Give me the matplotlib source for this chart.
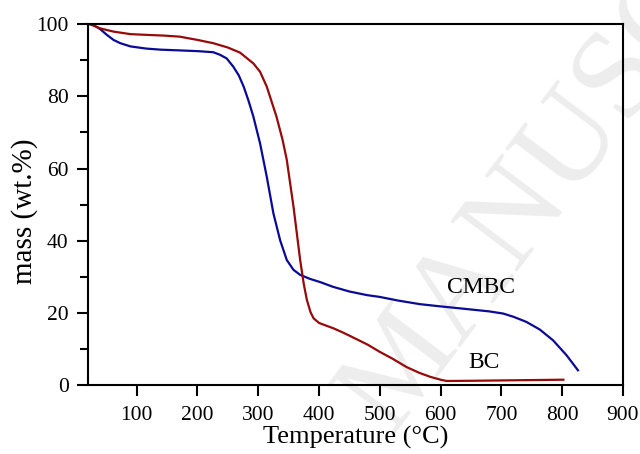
import matplotlib
matplotlib.use("Agg")
import matplotlib.pyplot as plt
from matplotlib.ticker import MultipleLocator

plt.rcParams['font.family'] = ['Liberation Serif', 'DejaVu Serif']

cmbc_T = [22, 30, 40, 51, 62, 73, 90, 116, 140, 171, 200, 226, 237, 248, 259, 268,
          276, 284, 292, 303, 314, 325, 336, 347, 358, 369, 385, 402, 423, 450, 479,
          500, 530, 566, 599, 640, 680, 703, 720, 741, 763, 785, 807, 826]
cmbc_m = [100, 99.6, 98.6, 97.0, 95.6, 94.7, 93.8, 93.2, 92.9, 92.7, 92.5, 92.2, 91.5,
          90.5, 88.2, 85.8, 82.7, 78.8, 74.4, 67.0, 57.8, 47.6, 40.2, 34.7, 32.0, 30.6,
          29.5, 28.6, 27.3, 26.0, 25.0, 24.5, 23.5, 22.5, 21.9, 21.2, 20.5, 19.9, 19.0,
          17.6, 15.5, 12.5, 8.4, 4.2]

bc_T = [22, 30, 40, 62, 90, 116, 145, 171, 200, 226, 250, 270, 292, 303, 314, 330, 340,
        347, 358, 369, 375, 380, 386, 391, 400, 424, 440, 462, 480, 500, 520, 544, 565,
        583, 600, 610, 650, 700, 750, 802]
bc_m = [100, 99.5, 98.8, 97.9, 97.2, 97.0, 96.8, 96.5, 95.6, 94.7, 93.5, 92.1, 89.1,
        86.8, 82.7, 74.4, 68.0, 62.4, 49.5, 34.7, 28.0, 23.7, 20.3, 18.6, 17.3, 15.8,
        14.6, 12.8, 11.3, 9.3, 7.5, 5.1, 3.5, 2.4, 1.6, 1.25, 1.3, 1.4, 1.5, 1.6]

x_ticks = [100, 200, 300, 400, 500, 600, 700, 800, 900]
y_ticks = [0, 20, 40, 60, 80, 100]

fig = plt.figure(figsize=(6.4, 4.54), dpi=100)
ax = fig.add_axes([0.1375, 0.1509, 0.8359, 0.7962])
ax.patch.set_alpha(0)

# watermark (behind the curves)
ax.text(0.61, 0.04, "MANUSCRIPT", transform=fig.transFigure, rotation=53,
        rotation_mode='anchor', ha='left', va='baseline', fontsize=92,
        color='#ededed', zorder=0, clip_on=False)

ax.plot(cmbc_T, cmbc_m, color='#0a0a96', lw=1.6, zorder=3)
ax.plot(bc_T, bc_m, color='#960a0a', lw=1.6, zorder=3)

ax.text(667, 27.0, "CMBC", fontsize=17, ha='center', va='center', zorder=4)
ax.text(672, 6.4, "BC", fontsize=17, ha='center', va='center', zorder=4)

ax.set_xlim(20, 900)
ax.set_ylim(0, 100)
ax.set_xticks(x_ticks)
ax.set_yticks(y_ticks)
ax.yaxis.set_minor_locator(MultipleLocator(10))
ax.tick_params(axis='both', which='major', direction='out', length=8, width=1.5,
               labelsize=15.5)
ax.tick_params(axis='x', which='major', pad=7)
ax.tick_params(axis='y', which='major', pad=6)
ax.tick_params(axis='y', which='minor', direction='out', length=6, width=1.5)
for s in ax.spines.values():
    s.set_linewidth(1.5)
    s.set_zorder(5)

ax.set_xlabel("Temperature (°C)", fontsize=19)
ax.set_ylabel("mass (wt.%)", fontsize=21)
ax.xaxis.set_label_coords(0.5, -0.112)
ax.yaxis.set_label_coords(-0.093, 0.483)

fig.savefig("out.png", dpi=100)
